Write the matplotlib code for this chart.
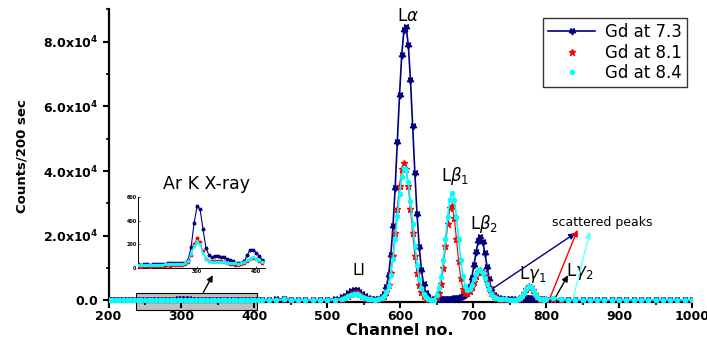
import matplotlib
matplotlib.use("Agg")
import matplotlib.pyplot as plt
from matplotlib.patches import Rectangle
from matplotlib.ticker import MultipleLocator, FuncFormatter

# channel grid (denser around the peaks)
channel = [
    200, 205, 210, 215, 220, 225, 230, 235, 240, 245, 250, 255, 260, 265, 270,
    275, 280, 285, 290, 295, 300, 305, 310, 315, 320, 325, 330, 335, 340, 345,
    350, 355, 360, 365, 370, 375, 380, 385, 390, 395, 400, 405, 410,
    420, 430, 440, 450, 460, 470, 480, 490, 500, 510,
    520, 524, 528, 532, 536, 540, 544, 548, 552, 556, 560,
    565, 570, 575,
    578, 581, 584, 587, 590, 593, 596, 599, 602, 605, 608, 611, 614, 617, 620,
    623, 626, 629, 632, 635, 638,
    642, 646,
    650, 653, 656, 659, 662, 665, 668, 671, 674, 677, 680, 683, 686, 689, 692,
    695, 698, 701, 704, 707, 710, 713, 716, 719, 722, 725, 728, 731,
    735, 740, 745, 750, 755,
    758, 761, 764, 767, 770, 773, 776, 779, 782, 785, 788, 791, 794, 797, 800,
    810, 820, 830, 840, 850, 860, 870, 880, 890, 900, 910, 920, 930, 940, 950,
    960, 970, 980, 990, 1000,
]

gd73 = [
    30, 28, 32, 30, 28, 30, 35, 33, 30, 35, 38, 40, 42, 40, 38,
    40, 45, 70, 180, 380, 520, 500, 330, 170, 110, 95, 100, 105, 95, 90,
    80, 70, 55, 45, 40, 45, 60, 110, 150, 155, 130, 100, 70,
    60, 300, 450, 250, 100, 80, 90, 120, 200, 400,
    900, 1500, 2200, 2800, 3150, 3150, 2700, 2000, 1300, 800, 500,
    330, 470, 1100,
    2100, 4200, 7900, 13900, 22900, 34900, 49100, 63600, 75900, 83500, 84600,
    79000, 68100, 54000, 39500, 26600, 16500, 9450, 5000, 2430, 1090,
    400, 250,
    200, 250, 300, 350, 400, 450, 500, 550, 600, 700, 800, 970, 1220, 1710,
    2610, 4280, 7070, 10890, 15050, 18310, 19500, 18110, 14750, 10440, 6470,
    3580, 1810, 910,
    600, 500, 450, 400, 400,
    250, 270, 330, 420, 550, 660, 690, 660, 500, 380, 330, 300, 280, 270, 260,
    200, 180, 170, 160, 160, 150, 150, 150, 150, 150, 150, 150, 150, 150, 150,
    150, 150, 150, 150, 150,
]

gd81 = [
    15, 12, 15, 14, 12, 15, 18, 16, 18, 20, 22, 20, 22, 25, 22,
    25, 30, 50, 110, 200, 250, 220, 140, 80, 60, 55, 60, 58, 55, 50,
    45, 35, 30, 28, 25, 30, 40, 60, 75, 85, 75, 60, 45,
    50, 250, 350, 200, 80, 60, 70, 90, 140, 250,
    500, 900, 1400, 1900, 2250, 2250, 1900, 1350, 850, 500, 300,
    210, 290, 650,
    1300, 2550, 4690, 8400, 13800, 20700, 28350, 35500, 40600, 42500, 40600,
    35500, 28350, 20700, 13800, 8400, 4690, 2550, 1300, 650, 350,
    250, 220,
    1000, 2300, 5200, 10000, 16700, 23600, 28500, 29300, 25600, 19100, 12200,
    6800, 3500, 2400, 2200, 2800, 4000, 5600, 7400, 8800, 9300, 8800, 7400,
    5600, 3800, 2300, 1300, 700,
    400, 300, 250, 230, 220,
    230, 320, 610, 1270, 2380, 3640, 4440, 4270, 3240, 1970, 1000, 480, 280, 220, 300,
    500, 250, 180, 170, 170, 160, 160, 160, 160, 160, 160, 160, 160, 160, 160,
    160, 160, 160, 160, 160,
]

gd84 = [
    25, 22, 25, 24, 22, 25, 28, 26, 28, 30, 30, 30, 32, 35, 32,
    35, 40, 60, 120, 190, 220, 200, 130, 75, 55, 50, 50, 52, 50, 48,
    45, 40, 40, 38, 35, 38, 48, 65, 80, 90, 80, 65, 50,
    55, 200, 300, 180, 90, 70, 80, 100, 150, 260,
    450, 800, 1250, 1700, 2000, 2000, 1700, 1200, 750, 450, 280,
    230, 320, 700,
    1350, 2600, 4560, 7970, 12840, 19060, 26040, 32800, 38130, 40800, 40260,
    36600, 30670, 23700, 16850, 11050, 6680, 3720, 1910, 900, 400,
    250, 220,
    1760, 3700, 7160, 12380, 19040, 25930, 31200, 33200, 31200, 25930, 19040,
    12380, 7500, 4500, 3330, 3580, 4800, 6500, 8200, 9300, 9450, 8600, 7080,
    5220, 3480, 2110, 1200, 670,
    450, 330, 280, 250, 240,
    230, 320, 600, 1250, 2330, 3560, 4340, 4170, 3170, 1930, 980, 480, 280, 250, 400,
    700, 300, 220, 200, 200, 200, 200, 200, 200, 200, 200, 200, 200, 200, 200,
    200, 200, 200, 200, 200,
]

series_labels = ["Gd at 7.3", "Gd at 8.1", "Gd at 8.4"]
navy = "#000080"
star_down = (5, 1, 180)


def y_fmt(v, pos):
    if v == 0:
        return r"$\mathbf{0.0}$"
    return r"$\mathbf{%.1fx10^4}$" % (v / 1e4)


def draw_series(a, ms_scale=1.0, lw=1.2):
    a.plot(channel, gd73, color=navy, lw=lw, marker=star_down, ms=5 * ms_scale,
           label=series_labels[0], zorder=3)
    a.plot(channel, gd81, color="red", lw=lw * 0.7, zorder=3)
    a.plot(channel, gd81, color="red", ls="none", marker="*", ms=5 * ms_scale,
           label=series_labels[1], zorder=3)
    a.plot(channel, gd84, color="cyan", lw=lw, zorder=4)
    a.plot(channel, gd84, color="cyan", ls="none", marker="o", ms=3 * ms_scale,
           label=series_labels[2], zorder=4)


fig = plt.figure(figsize=(7.07, 3.43), dpi=100)
ax = fig.add_axes([0.1535, 0.1195, 0.8253, 0.8531])
draw_series(ax)

ax.set_xlim(200, 1000)
ax.set_ylim(-500, 90000)
for s in ["top", "right"]:
    ax.spines[s].set_visible(False)
for s in ["left", "bottom"]:
    ax.spines[s].set_linewidth(1.6)
ax.xaxis.set_major_locator(MultipleLocator(100))
ax.xaxis.set_minor_locator(MultipleLocator(50))
ax.yaxis.set_major_locator(MultipleLocator(20000))
ax.yaxis.set_minor_locator(MultipleLocator(10000))
ax.yaxis.set_major_formatter(FuncFormatter(y_fmt))
ax.tick_params(which="major", direction="out", length=4, width=1.5, labelsize=9)
ax.tick_params(axis="x", which="major", pad=2)
ax.tick_params(which="minor", direction="out", length=2.5, width=1.2)
for lab in ax.get_xticklabels():
    lab.set_fontweight("bold")
ax.set_xlabel("Channel no.", fontsize=11.5, fontweight="bold", labelpad=0)
ax.set_ylabel("Counts/200 sec", fontsize=9.5, fontweight="bold", labelpad=10)

# peak labels
ax.text(611, 88000, r"L$\alpha$", fontsize=12, ha="center", va="center")
ax.text(675, 38500, r"L$\beta_1$", fontsize=12, ha="center", va="center")
ax.text(715, 23600, r"L$\beta_2$", fontsize=12, ha="center", va="center")
ax.text(782, 8000, r"L$\gamma_1$", fontsize=12, ha="center", va="center")
ax.text(846, 9000, r"L$\gamma_2$", fontsize=12, ha="center", va="center")
ax.text(543, 9200, "Ll", fontsize=11, ha="center", va="center")
ax.text(877, 24100, "scattered peaks", fontsize=9, ha="center", va="center")

# arrows to the scattered peaks
arrow_kw = dict(arrowstyle="-|>", lw=1.0, mutation_scale=9, shrinkA=0, shrinkB=0)
ax.annotate("", xy=(840, 20800), xytext=(727, 3700),
            arrowprops=dict(color=navy, **arrow_kw))
ax.annotate("", xy=(843, 21800), xytext=(805, 600),
            arrowprops=dict(color="red", **arrow_kw))
ax.annotate("", xy=(860, 21200), xytext=(837, 600),
            arrowprops=dict(color="#66ffff", **arrow_kw))
ax.annotate("", xy=(830, 7800), xytext=(813, 1000),
            arrowprops=dict(color="black", **arrow_kw))

# shaded region expanded in the inset
ax.add_patch(Rectangle((237, -3100), 166, 5250, facecolor="#c0c0c0",
                       edgecolor="black", lw=0.8, clip_on=False, zorder=1))
ax.annotate("", xy=(343, 7800), xytext=(330, 2500),
            arrowprops=dict(color="black", **arrow_kw))
ax.text(335, 36000, "Ar K X-ray", fontsize=12.5, ha="center", va="center")

ax.legend(loc="upper right", bbox_to_anchor=(0.9914, 0.9706), borderaxespad=0,
          fontsize=12, frameon=True, fancybox=False, edgecolor="black",
          handlelength=2.8, handletextpad=0.6, labelspacing=0.15,
          borderpad=0.3).get_frame().set_linewidth(1.0)

# inset
ins = fig.add_axes([0.1952, 0.2187, 0.1796, 0.207])
draw_series(ins, ms_scale=0.5, lw=0.8)
ins.set_xlim(200, 415)
ins.set_ylim(0, 600)
ins.set_xticks([300, 400])
ins.set_yticks([0, 200, 400, 600])
for s in ["top", "right"]:
    ins.spines[s].set_visible(False)
for s in ["left", "bottom"]:
    ins.spines[s].set_linewidth(0.7)
ins.tick_params(direction="in", length=1.5, width=0.5, labelsize=3.5, pad=1)
for lab in ins.get_xticklabels() + ins.get_yticklabels():
    lab.set_fontweight("bold")
ins.patch.set_alpha(0)

fig.savefig("out.png", dpi=100)
